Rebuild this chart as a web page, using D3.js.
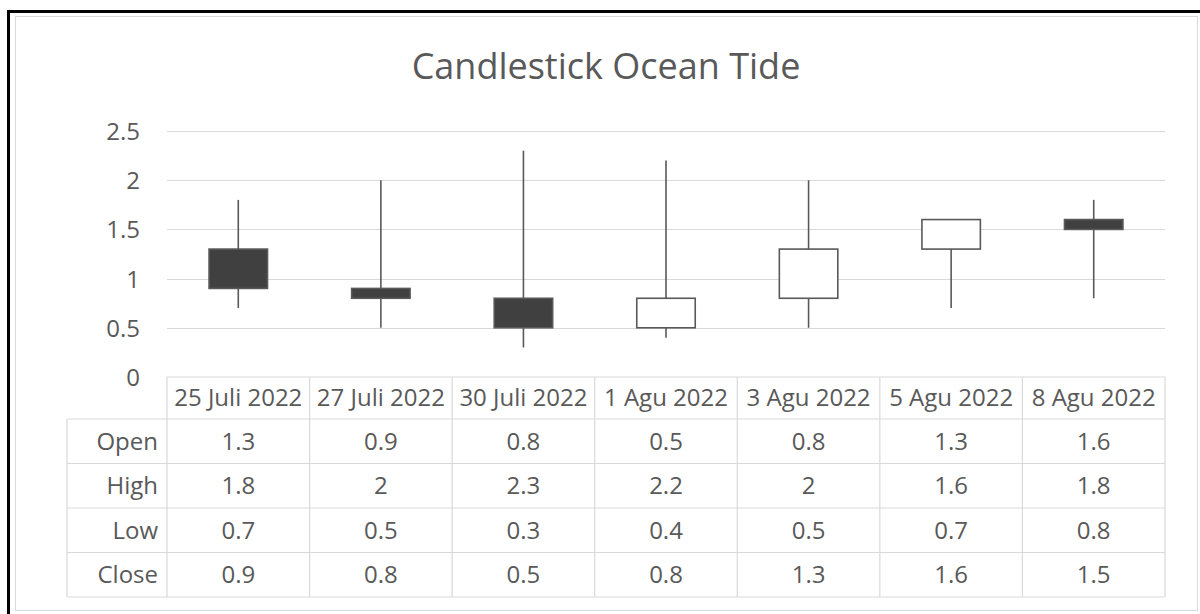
<!DOCTYPE html>
<html>
<head>
<meta charset="utf-8">
<script src="https://cdn.jsdelivr.net/npm/d3@7"></script>
<style>
  body { margin: 0; background: #fff; }
  text { font-family: "Open Sans", sans-serif; fill: #595959; }
</style>
</head>
<body>
<svg></svg>
<script>
const dates = ['25 Juli 2022', '27 Juli 2022', '30 Juli 2022', '1 Agu 2022', '3 Agu 2022', '5 Agu 2022', '8 Agu 2022'];
const open  = [1.3, 0.9, 0.8, 0.5, 0.8, 1.3, 1.6];
const high  = [1.8, 2, 2.3, 2.2, 2, 1.6, 1.8];
const low   = [0.7, 0.5, 0.3, 0.4, 0.5, 0.7, 0.8];
const close = [0.9, 0.8, 0.5, 0.8, 1.3, 1.6, 1.5];
const yTicks = [0, 0.5, 1, 1.5, 2, 2.5];

const W = 1200, H = 614;
const svg = d3.select('svg').attr('width', W).attr('height', H);

const data = dates.map((d, i) => ({
  date: d, open: open[i], high: high[i], low: low[i], close: close[i]
}));

// frame (screenshot border + chart area)
svg.append('rect')
  .attr('x', 15.5).attr('y', 16.5)
  .attr('width', 1182).attr('height', 594)
  .attr('fill', '#fff').attr('stroke', '#d9d9d9').attr('stroke-width', 1);
svg.append('line').attr('x1', 7).attr('x2', W).attr('y1', 11.5).attr('y2', 11.5)
  .attr('stroke', '#000').attr('stroke-width', 3);
svg.append('line').attr('x1', 8.5).attr('x2', 8.5).attr('y1', 10).attr('y2', H)
  .attr('stroke', '#000').attr('stroke-width', 3);

svg.append('text')
  .attr('x', 606).attr('y', 79)
  .attr('text-anchor', 'middle')
  .attr('font-size', 36)
  .text('Candlestick Ocean Tide');

const x = d3.scaleBand().domain(dates).range([167, 1165]).padding(0);
const y = d3.scaleLinear().domain([0, 2.5]).range([377, 131]);

// gridlines
svg.append('g').selectAll('line').data(yTicks.filter(t => t > 0))
  .enter().append('line')
    .attr('x1', 167).attr('x2', 1165)
    .attr('y1', d => Math.round(y(d)) + 0.5).attr('y2', d => Math.round(y(d)) + 0.5)
    .attr('stroke', '#d9d9d9').attr('stroke-width', 1.2);

// y axis labels
const yAxis = d3.axisLeft(y).tickValues(yTicks).tickSize(0).tickPadding(0)
  .tickFormat(d3.format('~g'));
const yg = svg.append('g').attr('transform', 'translate(140,0)').call(yAxis);
yg.select('.domain').remove();
yg.selectAll('text').attr('font-size', 24).attr('fill', '#595959')
  .attr('font-family', '"Open Sans", sans-serif').attr('dy', '0.35em');

// candles
const bodyW = x.step() * 0.41;
const cx = d => x(d.date) + x.bandwidth() / 2;
const candles = svg.append('g').selectAll('g').data(data).enter().append('g');
candles.append('line')
  .attr('x1', cx).attr('x2', cx)
  .attr('y1', d => y(d.high)).attr('y2', d => y(d.low))
  .attr('stroke', '#595959').attr('stroke-width', 1.6);
candles.append('rect')
  .attr('x', d => cx(d) - bodyW / 2)
  .attr('width', bodyW)
  .attr('y', d => y(Math.max(d.open, d.close)))
  .attr('height', d => Math.abs(y(d.open) - y(d.close)))
  .attr('fill', d => d.close < d.open ? '#404040' : '#fff')
  .attr('stroke', '#595959').attr('stroke-width', 1.6);

// data table
const rowLabels = ['Open', 'High', 'Low', 'Close'];
const rowVals = [open, high, low, close];
const headTop = 377, headBot = 419, rowH = 44.5;
const rowY = i => headBot + i * rowH;
const tableBottom = rowY(rowLabels.length);
const grid = svg.append('g').attr('stroke', '#d9d9d9').attr('stroke-width', 1.2);

grid.append('line').attr('x1', 167).attr('x2', 1165).attr('y1', headTop).attr('y2', headTop);
d3.range(rowLabels.length + 1).forEach(i => {
  grid.append('line').attr('x1', 67).attr('x2', 1165).attr('y1', rowY(i)).attr('y2', rowY(i));
});
grid.append('line').attr('x1', 67).attr('x2', 67).attr('y1', headBot).attr('y2', tableBottom);
dates.concat(['end']).forEach((d, i) => {
  const xx = 167 + i * x.step();
  grid.append('line').attr('x1', xx).attr('x2', xx).attr('y1', headTop).attr('y2', tableBottom);
});

svg.append('g').selectAll('text').data(dates).enter().append('text')
  .attr('x', d => x(d) + x.bandwidth() / 2)
  .attr('y', (headTop + headBot) / 2)
  .attr('dy', '0.35em')
  .attr('text-anchor', 'middle').attr('font-size', 24)
  .text(d => d);

rowLabels.forEach((lab, r) => {
  const cy = rowY(r) + rowH / 2;
  svg.append('text')
    .attr('x', 158).attr('y', cy).attr('dy', '0.35em')
    .attr('text-anchor', 'end').attr('font-size', 24)
    .text(lab);
  svg.append('g').selectAll('text').data(rowVals[r]).enter().append('text')
    .attr('x', (d, i) => x(dates[i]) + x.bandwidth() / 2)
    .attr('y', cy).attr('dy', '0.35em')
    .attr('text-anchor', 'middle').attr('font-size', 24)
    .text(d => d);
});
</script>
</body>
</html>
